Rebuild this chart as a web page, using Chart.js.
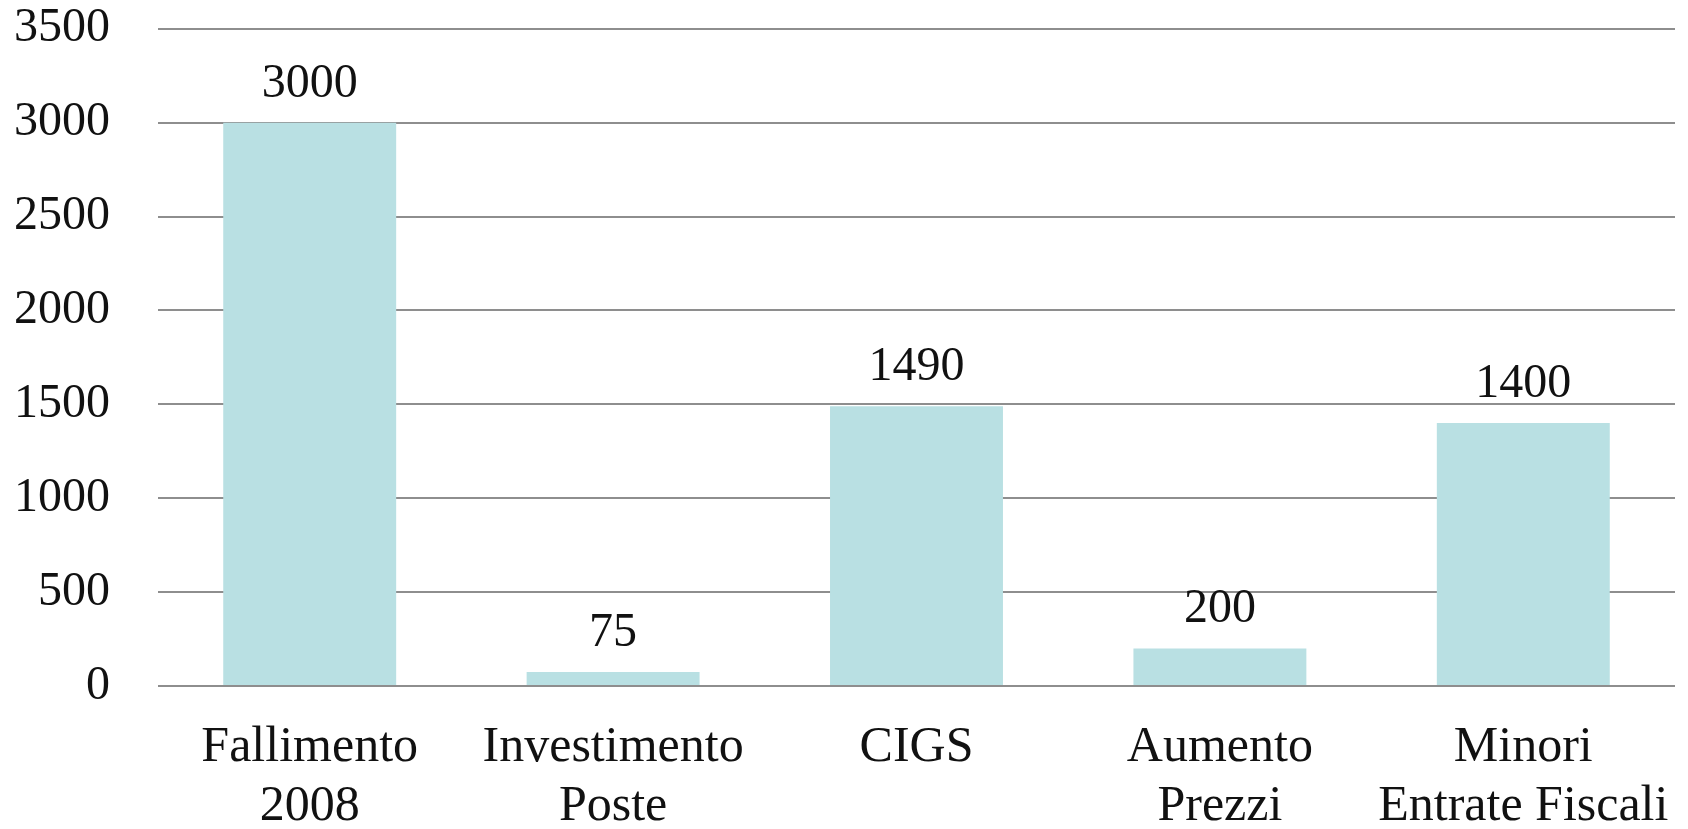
<!DOCTYPE html>
<html>
<head>
<meta charset="utf-8">
<script src="https://cdn.jsdelivr.net/npm/chart.js@4"></script>
<style>
  body { margin: 0; background: #fff; }
  #wrap { width: 1688px; height: 829px; }
</style>
</head>
<body>
<div id="wrap"><canvas id="chart"></canvas></div>
<script>
const categories = [["Fallimento", "2008"], ["Investimento", "Poste"], "CIGS", ["Aumento", "Prezzi"], ["Minori", "Entrate Fiscali"]];
const values = [3000, 75, 1490, 200, 1400];
const yTicks = [0, 500, 1000, 1500, 2000, 2500, 3000, 3500];

const serif = "'Liberation Serif', 'DejaVu Serif', serif";
const clear = "rgba(0,0,0,0)";

// labels over the bars
const valueLabels = {
  id: "valueLabels",
  afterDatasetsDraw(chart) {
    const ctx = chart.ctx;
    const meta = chart.getDatasetMeta(0);
    ctx.save();
    ctx.font = "48px " + serif;
    ctx.fillStyle = "#111";
    ctx.textAlign = "center";
    ctx.textBaseline = "alphabetic";
    meta.data.forEach(function (bar, i) {
      ctx.fillText(values[i], bar.x, bar.y - 26);
    });
    ctx.restore();
  }
};

const ctx = document.getElementById("chart").getContext("2d");
new Chart(ctx, {
  type: "bar",
  data: {
    labels: categories,
    datasets: [{
      data: values,
      backgroundColor: "#b9e0e3",
      barPercentage: 0.57,
      categoryPercentage: 1.0
    }]
  },
  options: {
    responsive: true,
    maintainAspectRatio: false,
    animation: false,
    layout: { padding: { left: 14, right: 13, top: 0, bottom: -7 } },
    plugins: {
      legend: { display: false },
      tooltip: { enabled: false }
    },
    scales: {
      x: {
        // invisible tick marks give the gap under the axis
        grid: { color: clear, tickColor: clear, drawTicks: true, tickLength: 32 },
        border: { display: false },
        ticks: {
          color: "#111",
          padding: 0,
          maxRotation: 0,
          autoSkip: false,
          font: { family: serif, size: 50, lineHeight: 1.18 }
        }
      },
      y: {
        min: 0,
        max: 3500,
        afterBuildTicks: function (axis) {
          axis.ticks = yTicks.map(function (v) { return { value: v }; });
        },
        grid: { color: "#8e8e8e", lineWidth: 2, drawTicks: true, tickLength: 48, tickColor: clear },
        border: { display: false },
        ticks: {
          color: "#111",
          padding: 0,
          font: { family: serif, size: 48 },
          callback: function (v) { return String(v); }
        }
      }
    }
  },
  plugins: [valueLabels]
});
</script>
</body>
</html>
